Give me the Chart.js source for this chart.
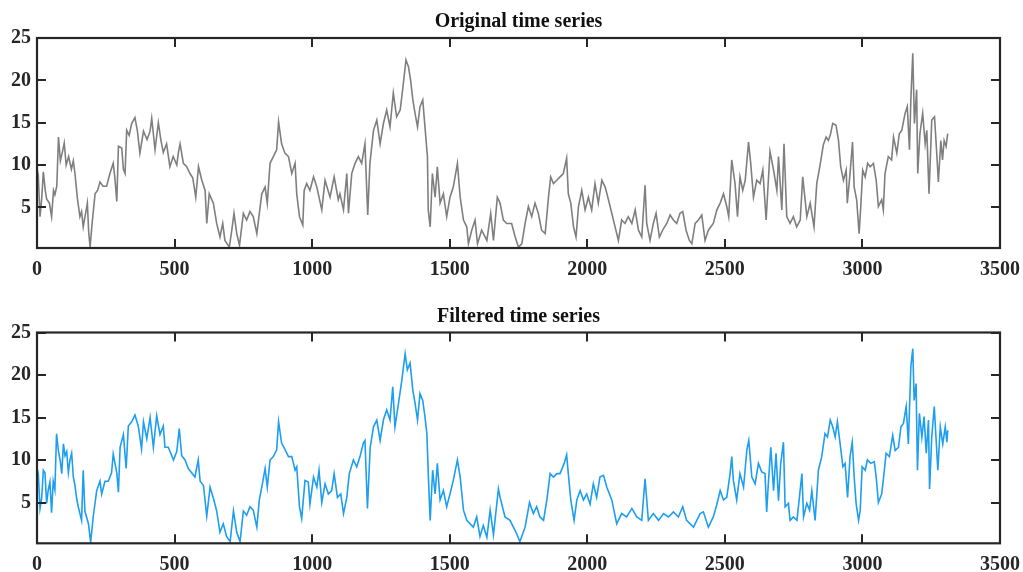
<!DOCTYPE html>
<html>
<head>
<meta charset="utf-8">
<script src="https://cdn.jsdelivr.net/npm/chart.js@4/dist/chart.umd.min.js"></script>
<style>
html,body{margin:0;padding:0;background:#fff;overflow:hidden;width:1023px;height:572px;}
canvas{position:absolute;left:0;}
#c1{top:0;}
#c2{top:294px;}
</style>
</head>
<body>
<canvas id="c1" width="1023" height="277"></canvas>
<canvas id="c2" width="1023" height="278"></canvas>
<script>
// ---------- data ----------
const xTickValues = [0, 500, 1000, 1500, 2000, 2500, 3000, 3500];
const yTickValues = [5, 10, 15, 20, 25];
const titles = ['Original time series', 'Filtered time series'];

const origX = [0,5,11,17,23,30,35,45,53,60,65,72,78,85,92,99,106,115,125,132,138,147,156,162,168,175,183,188,193,200,211,220,229,240,253,265,277,283,290,296,308,314,320,326,335,344,356,365,374,387,400,411,417,429,441,450,459,471,483,495,508,514,520,532,544,556,566,577,587,599,611,617,626,641,653,665,675,683,699,708,716,726,736,750,762,774,786,799,805,817,829,837,847,859,871,878,889,901,914,926,938,944,954,966,971,980,992,1005,1017,1035,1047,1065,1080,1095,1101,1114,1126,1132,1144,1156,1168,1180,1192,1202,1210,1223,1235,1247,1259,1271,1283,1295,1307,1320,1329,1341,1350,1358,1366,1374,1383,1392,1402,1410,1419,1422,1429,1437,1447,1455,1465,1477,1489,1501,1513,1528,1538,1550,1562,1568,1580,1592,1601,1616,1635,1649,1659,1673,1683,1695,1707,1725,1738,1750,1762,1774,1786,1798,1810,1822,1834,1847,1859,1867,1877,1889,1901,1913,1925,1931,1940,1950,1959,1968,1980,1992,2004,2016,2028,2040,2053,2065,2077,2089,2101,2113,2125,2137,2149,2162,2174,2186,2198,2210,2216,2228,2240,2250,2262,2277,2289,2301,2313,2325,2337,2347,2359,2371,2380,2392,2404,2416,2428,2440,2458,2471,2483,2495,2507,2514,2525,2537,2546,2555,2565,2574,2586,2594,2604,2616,2628,2638,2650,2664,2677,2689,2695,2707,2715,2725,2737,2749,2761,2774,2783,2798,2810,2824,2834,2846,2858,2868,2876,2883,2892,2904,2913,2921,2931,2941,2945,2955,2964,2970,2979,2988,2994,3001,3010,3019,3028,3040,3050,3058,3070,3076,3082,3094,3106,3113,3125,3134,3143,3155,3163,3171,3176,3183,3189,3197,3201,3209,3219,3228,3234,3242,3252,3262,3270,3276,3285,3291,3297,3304,3310];
const origY = [7.5,8.5,3.9,6,9.2,7,6,5.5,3.9,7,6.5,7.5,13.3,10.5,11.5,12.6,10,11,9.5,10.5,9,6,3.9,4.5,2.7,4.0,5.5,2,0.3,3,6.6,7,8,7.5,7.5,9,10.2,8.5,5.7,12.2,12,9.5,9,14.1,13.5,14.9,15.6,14,11.4,14,13,14,15.5,11.8,15,13,11.5,12.5,9.8,11,10,11.5,12.5,10.2,9.8,9.0,8.5,6.2,9.8,8.2,7.0,3.1,6.6,5.5,3.1,1.5,3.1,1.1,0.3,2.3,4.3,1.9,0.5,4.3,3.5,4.5,3.9,1.9,3.5,6.6,7.4,5.5,10.2,11.0,11.8,15.1,12.5,11.4,11.0,9.0,10.2,6.6,3.9,2.9,7.0,7.8,7.0,8.6,7.4,4.7,8.2,6.2,8.6,5.9,6.6,4.7,9.0,4.3,9.0,10.2,11.0,10.2,12.5,4.1,10.2,14.1,15.3,12.5,14.9,16.5,14.5,18.5,15.7,16.5,18.9,22.4,21.6,20.0,17.7,16.1,14.5,16.9,17.7,14.5,11.0,4.7,2.7,9.0,6.2,9.8,5.5,6.6,3.9,6.2,7.4,10.2,6.2,3.5,2.7,0.7,2.3,3.5,0.7,2.3,1.1,4.3,1.1,6.2,5.5,3.5,3.1,3.1,1.5,0.3,0.7,3.1,5.1,3.9,5.5,4.3,2.3,1.9,6.2,8.6,7.8,8.2,8.6,9.0,10.8,6.6,5.5,2.7,1.5,5.1,7.0,4.7,6.2,4.7,7.8,5.5,8.2,7.4,5.9,4.3,2.7,1.1,3.5,3.1,3.9,3.1,4.7,2.3,1.5,7.6,3.1,1.1,3.1,4.3,1.5,2.5,3.1,4.1,3.5,3.1,4.3,4.5,2.3,1.1,0.7,3.1,3.5,4.1,1.1,2.3,3.1,4.7,5.5,6.6,5.1,3.9,10.6,7.8,3.9,8.6,7.0,8.2,12.7,10.2,6.2,8.2,7.8,9.4,3.5,11.6,9.4,7.0,11.0,4.7,12.5,3.9,3.1,3.9,2.7,3.5,8.6,3.9,5.5,2.7,7.8,10.0,12.4,13.3,12.9,13.5,14.9,14.7,12.9,9.8,8.2,9.4,5.5,9.0,12.7,7.4,5.9,1.9,5.1,9.4,8.6,10.2,9.8,10.2,8.2,5.1,5.9,4.7,9.0,11.0,10.6,13.3,11.4,13.7,14.1,16.1,16.9,11.8,17.7,23.2,14.9,18.9,9.0,13.7,16.1,12.5,14.1,6.6,15.3,15.7,11.4,8.0,12.9,10.6,12.9,12.2,13.7];

const filtX = [0,5,11,17,23,29,35,41,47,53,59,65,71,78,84,90,96,102,108,114,120,126,132,138,144,150,162,168,174,187,195,205,217,229,235,247,259,271,277,290,296,302,314,324,332,344,356,368,380,387,399,411,423,435,447,459,465,477,490,496,508,517,526,538,550,562,574,586,593,605,617,629,641,653,665,677,689,702,714,726,738,750,762,774,786,799,808,817,829,837,847,859,871,878,889,902,914,926,938,944,954,962,974,986,992,1005,1017,1025,1035,1047,1059,1071,1080,1092,1104,1114,1126,1135,1150,1162,1174,1186,1192,1201,1211,1223,1235,1247,1259,1271,1283,1293,1301,1314,1326,1338,1346,1356,1366,1374,1383,1392,1402,1410,1417,1423,1429,1438,1447,1455,1465,1477,1489,1501,1513,1528,1538,1550,1562,1574,1586,1598,1610,1622,1635,1647,1659,1677,1683,1701,1719,1738,1755,1774,1790,1804,1816,1828,1841,1853,1865,1877,1889,1901,1916,1925,1931,1940,1952,1962,1974,1986,1998,2010,2022,2034,2046,2059,2071,2089,2107,2125,2143,2162,2180,2198,2210,2222,2240,2259,2277,2295,2313,2331,2347,2361,2386,2410,2422,2440,2458,2471,2483,2495,2507,2519,2525,2531,2543,2555,2568,2580,2587,2598,2610,2622,2634,2646,2652,2658,2667,2677,2686,2695,2703,2713,2719,2731,2737,2749,2762,2771,2780,2786,2798,2808,2816,2828,2840,2852,2864,2873,2883,2892,2901,2909,2919,2929,2937,2946,2955,2963,2970,2977,2986,2992,2999,3010,3018,3030,3043,3050,3058,3070,3077,3086,3098,3110,3119,3131,3140,3149,3159,3167,3176,3183,3188,3195,3200,3207,3216,3224,3232,3240,3244,3252,3261,3268,3274,3283,3292,3301,3307,3310];
const filtY = [7.4,8.2,4.3,5.5,8.8,8.5,4.9,6.5,7.4,3.8,7.5,6.5,13.1,11,10,8.4,11.9,10.5,11,8.5,10,10.8,8,7,5.5,4.5,2.9,8.8,4,2.5,0.3,3.5,6.4,7.5,6,7.5,7.5,8.5,10.7,8.5,6.2,11.5,13,9,14,14.5,15.3,14,11.3,14.5,12.5,15,11.5,15.2,13,14,11.5,11.5,10.5,10,11,13.7,10.5,10,9,8.5,8,10,7.5,7,3.4,6.8,5.5,4,1.5,2.5,1.0,0.4,4,1.5,0.4,4,3.5,4.5,4.1,2.1,5.3,6.8,9.0,6.8,10.0,10.4,11.2,14.5,12.0,11.2,10.4,10.4,8.8,9.2,4.5,3.1,7.6,7.4,4.8,8.0,6.8,8.8,5.0,7.2,6.0,6.4,8.4,5.6,6.0,3.7,5.6,8.4,10.0,9.2,10.4,12.0,12.3,4.3,11.5,13.9,14.7,12.3,14.7,15.9,14.7,18.6,13.9,16.7,19.4,22.5,20.6,21.4,18.2,16.7,14.7,17.8,17.0,15.1,13.1,7.6,2.9,8.8,6.0,9.6,5.3,6.4,4.5,6.0,7.6,10.0,8.0,4.1,2.9,2.5,2.1,3.3,1.0,2.3,0.9,4.1,1.2,6.6,5.6,3.3,2.9,1.7,0.4,2.1,5.0,3.7,4.5,3.3,2.9,5.3,8.4,8.0,8.4,8.4,9.6,10.6,8.4,5.3,2.9,5.3,6.4,5.3,6.0,4.8,7.2,5.6,8.0,8.2,6.8,5.3,2.5,3.7,3.3,4.3,3.3,2.9,7.8,2.9,3.7,2.9,3.7,3.3,3.9,3.3,4.5,2.9,2.1,3.7,3.9,2.1,3.3,4.8,6.4,5.3,5.6,8.4,10.4,7.6,5.3,8.4,6.8,11.2,12.3,8.0,7.2,9.6,8.6,8.4,3.9,7.2,11.5,6.4,10.8,5.2,9.6,12.1,4.5,4.9,2.9,3.3,2.9,5.6,8.4,3.3,4.9,4.1,6.4,2.9,8.8,10.4,13.1,12.7,14.7,13.9,12.7,14.5,11.9,9.2,9.6,5.6,10.4,12.1,8.0,4.9,2.9,4.1,9.2,8.8,10.0,9.6,9.8,8.0,5.0,6.0,8.0,10.8,10.4,12.9,11.1,11.5,13.9,14.3,16.3,11.9,21.0,23.1,17.0,19.0,8.8,15.5,12.7,15.1,10.8,14.7,6.6,12.7,16.3,12.3,8.8,13.9,11.9,13.9,12.1,13.5];

// ---------- chart building ----------
const FONT = "'Times New Roman', 'Liberation Serif', serif";
const AXIS_COLOR = '#262626';

const frameTicks = {
  id: 'frameTicks',
  afterDraw(chart) {
    const {ctx, chartArea: a, scales} = chart;
    ctx.save();
    ctx.strokeStyle = AXIS_COLOR;
    ctx.lineWidth = 2;
    ctx.beginPath();
    const L = 9;
    scales.x.ticks.forEach(t => {
      const px = Math.round(scales.x.getPixelForValue(t.value));
      ctx.moveTo(px, a.bottom); ctx.lineTo(px, a.bottom - L);
      ctx.moveTo(px, a.top); ctx.lineTo(px, a.top + L);
    });
    scales.y.ticks.forEach(t => {
      const py = Math.round(scales.y.getPixelForValue(t.value));
      ctx.moveTo(a.left, py); ctx.lineTo(a.left + L, py);
      ctx.moveTo(a.right, py); ctx.lineTo(a.right - L, py);
    });
    ctx.stroke();
    ctx.lineWidth = 2.2;
    ctx.strokeRect(a.left, a.top, a.right - a.left, a.bottom - a.top);
    ctx.restore();
  }
};

function makeChart(id, xs, ys, color, title, titleTop, titleBottom, xAxisHeight) {
  const pts = xs.map((x, i) => ({x: x, y: ys[i]}));
  return new Chart(document.getElementById(id), {
    type: 'line',
    data: {
      datasets: [{
        data: pts,
        borderColor: color,
        borderWidth: 1.6,
        pointRadius: 0,
        tension: 0,
        fill: false
      }]
    },
    options: {
      responsive: false,
      animation: false,
      devicePixelRatio: 1,
      layout: {padding: {left: 0, right: 23, top: 0, bottom: 0}},
      plugins: {
        legend: {display: false},
        tooltip: {enabled: false},
        title: {
          display: true,
          fullSize: false,
          text: title,
          color: '#111',
          font: {family: FONT, size: 20, weight: 'bold'},
          padding: {top: titleTop, bottom: titleBottom}
        }
      },
      scales: {
        x: {
          type: 'linear',
          min: 0, max: 3500,
          afterBuildTicks: s => { s.ticks = xTickValues.map(v => ({value: v})); },
          afterFit: s => {
            s.height = xAxisHeight;
            s.paddingLeft = 0; s.paddingRight = 0; s.paddingTop = 0; s.paddingBottom = 0;
          },
          grid: {display: false, drawTicks: false},
          border: {display: false},
          ticks: {
            color: AXIS_COLOR,
            padding: 10,
            maxRotation: 0,
            autoSkip: false,
            font: {family: FONT, size: 20, weight: 'bold'},
            callback: v => String(v)
          }
        },
        y: {
          type: 'linear',
          min: 0.2, max: 25,
          afterBuildTicks: s => { s.ticks = yTickValues.map(v => ({value: v})); },
          afterFit: s => {
            s.width = 37;
            s.paddingLeft = 0; s.paddingRight = 0; s.paddingTop = 0; s.paddingBottom = 0;
          },
          grid: {display: false, drawTicks: false},
          border: {display: false},
          ticks: {
            color: AXIS_COLOR,
            padding: 6,
            autoSkip: false,
            font: {family: FONT, size: 20, weight: 'bold'},
            callback: v => String(v)
          }
        }
      }
    },
    plugins: [frameTicks]
  });
}

makeChart('c1', origX, origY, '#7f7f7f', titles[0], 10, 4, 29);
makeChart('c2', filtX, filtY, '#1d9ef0', titles[1], 11, 3.5, 28.7);
</script>
</body>
</html>
